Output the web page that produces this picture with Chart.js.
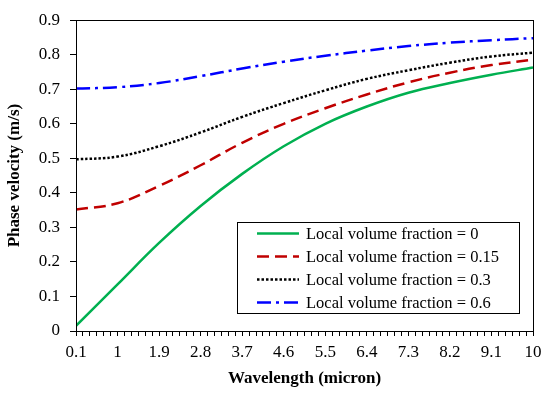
<!DOCTYPE html>
<html>
<head>
<meta charset="utf-8">
<script src="https://cdn.jsdelivr.net/npm/chart.js@4/dist/chart.umd.min.js"></script>
<style>
html,body{margin:0;padding:0;background:#fff;}
#wrap{width:550px;height:395px;position:relative;}
</style>
</head>
<body>
<div id="wrap"><canvas id="c" width="550" height="395"></canvas></div>
<script>
const wavelength = [0.1, 1, 1.9, 2.8, 3.7, 4.6, 5.5, 6.4, 7.3, 8.2, 9.1, 10];
const xTickLabels = ['0.1','1','1.9','2.8','3.7','4.6','5.5','6.4','7.3','8.2','9.1','10'];
const seriesNames = ['Local volume fraction = 0','Local volume fraction = 0.15','Local volume fraction = 0.3','Local volume fraction = 0.6'];
const vf0   = [0.015, 0.135, 0.255, 0.362, 0.455, 0.535, 0.60, 0.65, 0.69, 0.718, 0.742, 0.763];
const vf015 = [0.352, 0.37, 0.42, 0.48, 0.545, 0.60, 0.645, 0.685, 0.72, 0.748, 0.77, 0.786];
const vf03  = [0.497, 0.505, 0.535, 0.575, 0.62, 0.66, 0.697, 0.73, 0.755, 0.777, 0.795, 0.806];
const vf06  = [0.702, 0.706, 0.718, 0.738, 0.76, 0.78, 0.797, 0.812, 0.825, 0.835, 0.842, 0.848];

const FONT = "'Liberation Serif', 'Times New Roman', serif";

function pts(ys){ return wavelength.map((x,i)=>({x:x,y:ys[i]})); }

const styles = [
  {color:'#00B050', dash:[]},
  {color:'#C00000', dash:[12,6]},
  {color:'#000000', dash:[2.5,2]},
  {color:'#0000FF', dash:[14,5,3,5]}
];
const allSeries = [vf0, vf015, vf03, vf06];

const frame = {
  id:'frame',
  afterDraw(chart){
    const a = chart.chartArea, ctx = chart.ctx;
    ctx.save();
    ctx.strokeStyle = '#000'; ctx.lineWidth = 1;
    ctx.strokeRect(Math.round(a.left)+0.5, Math.round(a.top)+0.5, Math.round(a.right-a.left), Math.round(a.bottom-a.top));
    const bw = 282, bh = 91;
    const bx = Math.round(a.right - 14 - bw), by = Math.round(a.bottom - 18 - bh);
    ctx.fillStyle = '#fff';
    ctx.fillRect(bx, by, bw, bh);
    ctx.strokeRect(bx+0.5, by+0.5, bw, bh);
    ctx.font = '16.5px ' + FONT;
    ctx.textBaseline = 'middle';
    ctx.textAlign = 'left';
    chart.data.datasets.forEach((ds,i)=>{
      const y = by + 11.5 + 23*i;
      ctx.beginPath();
      ctx.setLineDash(ds.borderDash || []);
      ctx.strokeStyle = ds.borderColor;
      ctx.lineWidth = ds.borderWidth;
      ctx.moveTo(bx+20, y); ctx.lineTo(bx+62, y);
      ctx.stroke();
      ctx.setLineDash([]);
      ctx.fillStyle = '#000';
      ctx.fillText(ds.label, bx+69, y+1);
    });
    ctx.restore();
  }
};

new Chart(document.getElementById('c'), {
  type:'line',
  data:{
    datasets: allSeries.map((s,i)=>({
      label: seriesNames[i],
      data: pts(s),
      borderColor: styles[i].color,
      borderDash: styles[i].dash,
      borderWidth: 2.5,
      pointRadius: 0,
      fill:false,
      tension:0.4
    }))
  },
  options:{
    responsive:false,
    animation:false,
    layout:{padding:{left:0,right:17,top:14,bottom:0}},
    plugins:{legend:{display:false}, tooltip:{enabled:false}},
    scales:{
      x:{
        type:'linear', min:0.1, max:10,
        afterBuildTicks(scale){
          const t=[];
          for(let i=0;i<=66;i++){ t.push({value: 0.1 + 0.15*i}); }
          scale.ticks = t;
        },
        afterFit(scale){ scale.height = 64; },
        ticks:{
          autoSkip:false, maxRotation:0, padding:6, color:'#000',
          font:{family:FONT,size:17},
          callback(v, idx){ return idx % 6 === 0 ? xTickLabels[idx/6] : ''; }
        },
        grid:{drawOnChartArea:false, tickLength:5, color:'#000', tickColor:'#000'},
        border:{display:true,color:'#000',width:1},
        title:{display:true,text:'Wavelength (micron)',color:'#000',font:{family:FONT,size:17,weight:'bold'},padding:{top:0,bottom:6}}
      },
      y:{
        min:0, max:0.9,
        afterFit(scale){ scale.width = 76; },
        ticks:{stepSize:0.1, padding:10, color:'#000', font:{family:FONT,size:17},
          callback(v){ return String(Math.round(v*10)/10); }},
        grid:{drawOnChartArea:false, tickLength:6, color:'#000', tickColor:'#000'},
        border:{display:true,color:'#000',width:1},
        title:{display:true,text:'Phase velocity (m/s)',color:'#000',font:{family:FONT,size:17,weight:'bold'},padding:{top:4,bottom:0}}
      }
    }
  },
  plugins:[frame]
});
</script>
</body>
</html>
